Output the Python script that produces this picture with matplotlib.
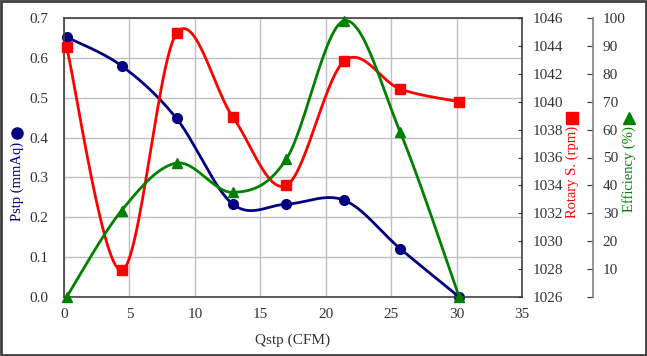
import numpy as np
import matplotlib
matplotlib.use("Agg")
import matplotlib.pyplot as plt
from matplotlib.lines import Line2D
from matplotlib.patches import Rectangle

plt.rcParams['font.family'] = ['Liberation Serif', 'DejaVu Serif']
plt.rcParams['font.size'] = 11

# data
qstp = [0.2, 4.4, 8.6, 12.9, 17.0, 21.4, 25.7, 30.2]
pstp = [0.652, 0.580, 0.448, 0.233, 0.233, 0.243, 0.121, 0.0]
rpm = [1043.9, 1027.9, 1044.9, 1038.9, 1034.0, 1042.9, 1040.9, 1040.0]
eff = [0.0, 31.0, 48.0, 37.5, 49.5, 99.0, 59.0, 0.0]


def smooth(xs, ys, xr, yr, n=30):
    # excel-like smoothed line (catmull-rom bezier) in normalized coordinates
    x = (np.array(xs) - xr[0]) / (xr[1] - xr[0])
    y = (np.array(ys) - yr[0]) / (yr[1] - yr[0])
    p = np.column_stack([x, y])
    p = np.vstack([p[0], p, p[-1]])
    out = []
    t = np.linspace(0, 1, n)[:, None]
    for i in range(1, len(p) - 2):
        p0, p1, p2, p3 = p[i - 1], p[i], p[i + 1], p[i + 2]
        c1 = p1 + (p2 - p0) / 6
        c2 = p2 - (p3 - p1) / 6
        seg = (1 - t) ** 3 * p1 + 3 * (1 - t) ** 2 * t * c1 + 3 * (1 - t) * t ** 2 * c2 + t ** 3 * p2
        out.append(seg)
    out = np.vstack(out)
    return out[:, 0] * (xr[1] - xr[0]) + xr[0], out[:, 1] * (yr[1] - yr[0]) + yr[0]


fig = plt.figure(figsize=(6.47, 3.56), dpi=100)
ax = fig.add_axes([64 / 647, 1 - 297 / 356, 458 / 647, 279 / 356])
xr = (0, 35)

navy = '#000080'
red = '#ff0000'
green = '#008000'

ax.set_xlim(*xr)
ax.set_ylim(0, 0.7)
ax.set_xticks(range(0, 36, 5))
ax.set_yticks(np.arange(0, 0.71, 0.1))
ax.set_yticklabels(['%.1f' % v for v in np.arange(0, 0.71, 0.1)])
ax.grid(True, color='#c0c0c0', lw=1)
ax.set_axisbelow(True)
ax.tick_params(direction='in', length=0, colors='#333333')
ax.tick_params(axis='x', pad=8)
ax.tick_params(axis='y', pad=11)
for s in ax.spines.values():
    s.set_color('#404040')
    s.set_linewidth(1.2)
sx, sy = smooth(qstp, pstp, xr, (0, 0.7))
ax.plot(sx, sy, color=navy, lw=2, clip_on=False)
ax.plot(qstp, pstp, 'o', color=navy, ms=7, clip_on=False)
ax.set_xlabel('Qstp (CFM)', color='#333333', labelpad=9)

ax2 = ax.twinx()
ax2.set_ylim(1026, 1046)
ax2.set_yticks(range(1026, 1047, 2))
ax2.tick_params(direction='in', length=3, colors='#333333', pad=8)
for s in ax2.spines.values():
    s.set_visible(False)
sx, sy = smooth(qstp, rpm, xr, (1026, 1046))
ax2.plot(sx, sy, color=red, lw=2, clip_on=False)
ax2.plot(qstp, rpm, 's', color=red, ms=7.5, clip_on=False)

ax3 = ax.twinx()
ax3.set_ylim(0, 100)
ax3.set_yticks(range(0, 101, 10))
ax3.set_yticklabels([''] + [str(v) for v in range(10, 101, 10)])
ax3.spines['right'].set_position(('axes', (593 - 64) / 458))
ax3.spines['right'].set_color('#808080')
ax3.spines['right'].set_linewidth(1.2)
for k in ['left', 'top', 'bottom']:
    ax3.spines[k].set_visible(False)
ax3.tick_params(direction='in', length=4, colors='#333333', pad=7)
sx, sy = smooth(qstp, eff, xr, (0, 100))
ax3.plot(sx, sy, color=green, lw=2, clip_on=False)
ax3.plot(qstp, eff, '^', color=green, ms=7, clip_on=False)

# axis titles with marker symbols
fig.text(17 / 647, 1 - 181 / 356, 'Pstp (mmAq)', rotation=90, color=navy,
         ha='center', va='center', fontsize=10.5)
fig.add_artist(Line2D([17 / 647], [1 - 133 / 356], marker='o', color=navy, ms=8,
                      transform=fig.transFigure))
fig.text(572 / 647, 1 - 172 / 356, 'Rotary S. (rpm)', rotation=90, color=red,
         ha='center', va='center', fontsize=10.5)
fig.add_artist(Line2D([572 / 647], [1 - 117.5 / 356], marker='s', color=red, ms=8.5,
                      transform=fig.transFigure))
fig.text(629 / 647, 1 - 169 / 356, 'Efficiency (%)', rotation=90, color=green,
         ha='center', va='center', fontsize=10.5)
fig.add_artist(Line2D([629 / 647], [1 - 118 / 356], marker='^', color=green, ms=8.5,
                      transform=fig.transFigure))

# outer frame
fig.add_artist(Rectangle((0.002, 0.003), 0.996, 0.994, transform=fig.transFigure,
                         fill=False, edgecolor='#404040', lw=2))

fig.savefig('out.png', dpi=100)
